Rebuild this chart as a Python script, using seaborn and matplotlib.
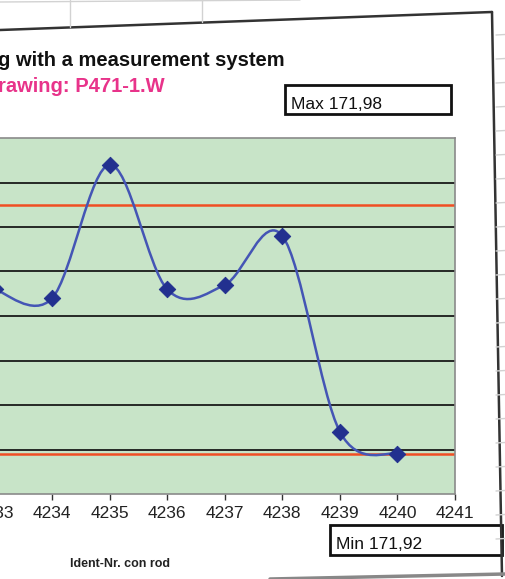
import numpy as np
import pandas as pd
import matplotlib
matplotlib.use("Agg")
import matplotlib.pyplot as plt
import seaborn as sns
from matplotlib.path import Path
from matplotlib.patches import PathPatch, Rectangle
from matplotlib.lines import Line2D

# ---- data ----
ident = [4233, 4234, 4235, 4236, 4237, 4238, 4239, 4240]
measured = [171.956, 171.954, 171.984, 171.956, 171.957, 171.968, 171.924, 171.919]
upper_limit = 171.975
lower_limit = 171.919
x_ticks = [4232, 4233, 4234, 4235, 4236, 4237, 4238, 4239, 4240, 4241]
y_ticks = [171.91, 171.92, 171.93, 171.94, 171.95, 171.96, 171.97, 171.98, 171.99]
title_text = "g with a measurement system"
drawing_text = "rawing: P471-1.W"
max_text = "Max 171,98"
min_text = "Min 171,92"
xlabel_text = "Ident-Nr. con rod"

df = pd.DataFrame({"ident": ident, "value": measured})

sns.set_style("white")
plt.rcParams["font.family"] = ["Liberation Sans", "DejaVu Sans"]

W, H = 505, 579
fig = plt.figure(figsize=(W / 100, H / 100), dpi=100)
fig.patch.set_facecolor("white")

def fx(px):
    return px / W

def fy(py):
    return 1 - py / H

# axes: left part runs off the canvas (photo crop)
ax_left_px, ax_right_px, ax_top_px, ax_bot_px = -63, 455, 138, 494
ax = fig.add_axes([fx(ax_left_px), fy(ax_bot_px),
                   (ax_right_px - ax_left_px) / W, (ax_bot_px - ax_top_px) / H])
ax.set_facecolor("#c8e4c8")
ax.set_xlim(4232, 4241)
ax.set_ylim(171.91, 171.99)
ax.set_xticks(x_ticks)
ax.set_xticklabels([str(t) for t in x_ticks], fontsize=12.5, color="#222222")
ax.set_yticks(y_ticks)
ax.tick_params(axis="x", direction="out", length=4, width=1, color="#333333", pad=5, bottom=True)
ax.tick_params(axis="y", left=False, labelleft=False)
for y in y_ticks[1:-1]:
    ax.axhline(y, color="#1a1a1a", lw=1.3, zorder=1)
for s in ax.spines.values():
    s.set_color("#8a8a8a")
    s.set_linewidth(1.2)

# tolerance lines
ax.axhline(upper_limit, color="#f04e23", lw=1.8, zorder=2)
ax.axhline(lower_limit, color="#f04e23", lw=1.8, zorder=2)

# smoothed line (Catmull-Rom as cubic Bezier in data coordinates)
xs = df["ident"].to_numpy(dtype=float)
ys = df["value"].to_numpy(dtype=float)
pts = np.column_stack([xs, ys])
n = len(pts)
verts = [tuple(pts[0])]
codes = [Path.MOVETO]
for i in range(n - 1):
    p0 = pts[i - 1] if i > 0 else pts[i]
    p1 = pts[i]
    p2 = pts[i + 1]
    p3 = pts[i + 2] if i + 2 < n else pts[i + 1]
    c1 = p1 + (p2 - p0) / 6.0
    c2 = p2 - (p3 - p1) / 6.0
    verts += [tuple(c1), tuple(c2), tuple(p2)]
    codes += [Path.CURVE4] * 3
ax.add_patch(PathPatch(Path(verts, codes), fill=False, edgecolor="#4455b5", lw=1.8, zorder=3))

sns.scatterplot(data=df, x="ident", y="value", ax=ax, marker="D", s=70,
                color="#22308f", edgecolor="#22308f", zorder=4, legend=False)
ax.set_xlabel("")
ax.set_ylabel("")

# titles
fig.text(fx(-2), fy(66), title_text, fontsize=14.5, fontweight="bold", color="#111111", va="baseline")
fig.text(fx(-2), fy(92), drawing_text, fontsize=14.5, fontweight="bold", color="#e8338a", va="baseline")

# Max / Min boxes
fig.add_artist(Rectangle((fx(285), fy(114)), fx(451) - fx(285), fy(85) - fy(114),
                         transform=fig.transFigure, fill=False, edgecolor="#111111", lw=2))
fig.text(fx(291), fy(109), max_text, fontsize=12.5, color="#111111", va="baseline")
fig.add_artist(Rectangle((fx(330), fy(555)), fx(502) - fx(330), fy(525) - fy(555),
                         transform=fig.transFigure, fill=False, edgecolor="#111111", lw=2))
fig.text(fx(336), fy(549), min_text, fontsize=12.5, color="#111111", va="baseline")

fig.text(fx(70), fy(567), xlabel_text, fontsize=9, fontweight="bold", color="#222222", va="baseline")

# chart frame and spreadsheet grid around it
fig.add_artist(Line2D([fx(0), fx(492)], [fy(30), fy(12)], transform=fig.transFigure, color="#333333", lw=1.8))
fig.add_artist(Line2D([fx(492), fx(502)], [fy(12), fy(576)], transform=fig.transFigure, color="#333333", lw=1.8))
fig.add_artist(Line2D([fx(270), fx(505)], [fy(579), fy(574)], transform=fig.transFigure, color="#888888", lw=2.5))
for gx, gy in [(70, 27), (202, 22)]:
    fig.add_artist(Line2D([fx(gx), fx(gx)], [fy(0), fy(gy)], transform=fig.transFigure, color="#d2d2d2", lw=1))
fig.add_artist(Line2D([fx(0), fx(300)], [fy(2), fy(0)], transform=fig.transFigure, color="#d2d2d2", lw=1))
for gy in range(35, 560, 24):
    fig.add_artist(Line2D([fx(496), fx(505)], [fy(gy), fy(gy - 0.5)], transform=fig.transFigure, color="#d2d2d2", lw=1))

fig.savefig("out.png", dpi=100)
